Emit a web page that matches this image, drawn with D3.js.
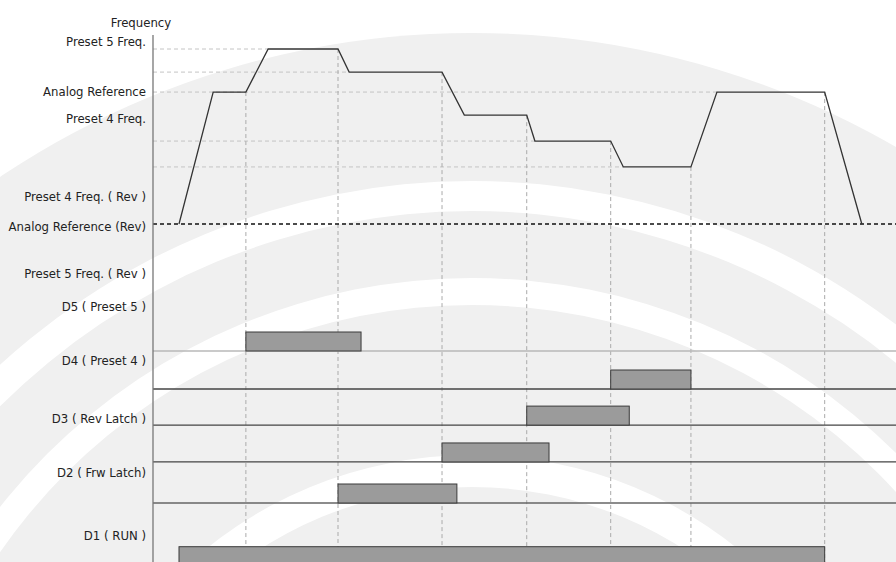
<!DOCTYPE html>
<html>
<head>
<meta charset="utf-8">
<script src="https://cdn.jsdelivr.net/npm/d3@7"></script>
<style>
  body { margin: 0; background: #fff; }
  svg text { font-family: "DejaVu Sans Condensed", "Liberation Sans", sans-serif; fill: #222; }
</style>
</head>
<body>
<svg id="chart" width="896" height="562"></svg>
<script>
// frequency profile (time in s, frequency in Hz)
var profileTime = [0.35, 0.81, 1.25, 1.55, 2.49, 2.64, 3.89, 4.19, 5.03, 5.14, 6.16, 6.33, 7.24, 7.59, 9.04, 9.54];
var profileFreq = [0, 37.7, 37.7, 50, 50, 43.4, 43.4, 31.1, 31.1, 23.7, 23.7, 16.3, 16.3, 37.7, 37.7, 0];

// dashed reference levels and switching instants
var gridLevels = [50, 43.4, 37.7, 23.7, 16.3];
var eventTimes = [1.25, 2.49, 3.89, 5.03, 6.16, 7.24, 9.04];

// left labels, upper part (in Hz)
var freqLabels = ['Preset 5 Freq.', 'Analog Reference', 'Preset 4 Freq.', 'Preset 4 Freq. ( Rev )', 'Analog Reference (Rev)', 'Preset 5 Freq. ( Rev )'];
var freqLabelPos = [52.3, 38, 30.3, 8, -0.6, -14];

// left labels, digital inputs (in rows)
var sigLabels = ['D5 ( Preset 5 )', 'D4 ( Preset 4 )', 'D3 ( Rev Latch )', 'D2 ( Frw Latch)', 'D1 ( RUN )'];
var sigLabelPos = [-1.18, 0.24, 1.76, 3.18, 4.84];

// input pulses
var barRow = [0, 1, 1.95, 2.92, 4, 5.65];
var barStart = [1.25, 6.16, 5.03, 3.89, 2.49, 0.35];
var barEnd = [2.80, 7.24, 6.41, 5.33, 4.09, 9.04];
var baseRows = [0, 1, 1.95, 2.92, 4];

var svg = d3.select('#chart');
var W = 896, H = 562;

var x = d3.scaleLinear().domain([0, 10]).range([153, 896]);
var yFreq = d3.scaleLinear().domain([0, 50]).range([224, 49]);
var yRow = d3.scaleLinear().domain([0, 4]).range([351, 503]);

// watermark in the background
var wm = svg.append('g').attr('transform', 'translate(472,879)');
wm.append('circle').attr('r', 846).attr('fill', '#f0f0f0');
[[668, 698], [574, 601], [392, 424]].forEach(function(r) {
    wm.append('path')
      .attr('d', d3.arc().innerRadius(r[0]).outerRadius(r[1]).startAngle(-Math.PI).endAngle(Math.PI)())
      .attr('fill', '#fff');
});

// horizontal dashed levels, each reaching the last plateau at that level
gridLevels.forEach(function(lv) {
    var end = 0;
    for (var i = 1; i < profileFreq.length; i++) {
        if (profileFreq[i] === lv && profileFreq[i - 1] !== lv) end = profileTime[i];
    }
    svg.append('line')
      .attr('x1', x(0)).attr('x2', x(end))
      .attr('y1', yFreq(lv)).attr('y2', yFreq(lv))
      .attr('stroke', '#c4c4c4').attr('stroke-dasharray', '4,3');
});

// frequency at a given time, read along the profile
var freqAt = function(t) {
    for (var i = 1; i < profileTime.length; i++) {
        if (t <= profileTime[i]) {
            var k = (t - profileTime[i - 1]) / (profileTime[i] - profileTime[i - 1]);
            return profileFreq[i - 1] + k * (profileFreq[i] - profileFreq[i - 1]);
        }
    }
    return 0;
};

svg.selectAll('.event')
  .data(eventTimes)
  .enter()
  .append('line')
    .attr('class', 'event')
    .attr('x1', function(d) { return x(d); })
    .attr('x2', function(d) { return x(d); })
    .attr('y1', function(d) { return yFreq(freqAt(d)); })
    .attr('y2', H)
    .attr('stroke', '#aaa')
    .attr('stroke-dasharray', '4,3');

// baselines of the digital inputs
svg.selectAll('.base')
  .data(baseRows)
  .enter()
  .append('line')
    .attr('class', 'base')
    .attr('x1', x(0)).attr('x2', W)
    .attr('y1', function(d) { return yRow(d); })
    .attr('y2', function(d) { return yRow(d); })
    .attr('stroke', function(d) { return d === 0 ? '#b8b8b8' : (d === 4 ? '#666' : '#444'); })
    .attr('stroke-width', 1.3);

// pulses
var barH = yRow(0.5) - yRow(0);
svg.selectAll('.pulse')
  .data(barRow)
  .enter()
  .append('rect')
    .attr('class', 'pulse')
    .attr('x', function(d, i) { return x(barStart[i]); })
    .attr('y', function(d) { return yRow(d) - barH; })
    .attr('width', function(d, i) { return x(barEnd[i]) - x(barStart[i]); })
    .attr('height', barH)
    .attr('fill', '#9b9b9b')
    .attr('stroke', '#3a3a3a')
    .attr('stroke-width', 1);

// zero-frequency reference
svg.append('line')
  .attr('x1', x(0)).attr('x2', W)
  .attr('y1', yFreq(0)).attr('y2', yFreq(0))
  .attr('stroke', '#111').attr('stroke-width', 1.5)
  .attr('stroke-dasharray', '4,3');

// frequency curve
var line = d3.line()
    .x(function(d) { return x(d[0]); })
    .y(function(d) { return yFreq(d[1]); });
svg.append('path')
  .datum(d3.zip(profileTime, profileFreq))
  .attr('d', line)
  .attr('fill', 'none')
  .attr('stroke', '#333')
  .attr('stroke-width', 1.3);

// left axis
svg.append('line')
  .attr('x1', x(0)).attr('x2', x(0))
  .attr('y1', 35).attr('y2', H)
  .attr('stroke', '#777').attr('stroke-width', 1.3);

var freqAxis = d3.axisLeft(yFreq)
    .tickValues(freqLabelPos)
    .tickFormat(function(d, i) { return freqLabels[i]; })
    .tickSize(0)
    .tickPadding(7);
var sigAxis = d3.axisLeft(yRow)
    .tickValues(sigLabelPos)
    .tickFormat(function(d, i) { return sigLabels[i]; })
    .tickSize(0)
    .tickPadding(7);

[freqAxis, sigAxis].forEach(function(ax) {
    var g = svg.append('g').attr('transform', 'translate(' + x(0) + ',0)').call(ax);
    g.select('.domain').remove();
    g.selectAll('text').style('font-size', '13px').attr('fill', '#222');
});

svg.append('text')
  .attr('x', 141).attr('y', 22).attr('dy', '0.35em')
  .attr('text-anchor', 'middle')
  .style('font-size', '13px')
  .text('Frequency');
</script>
</body>
</html>
